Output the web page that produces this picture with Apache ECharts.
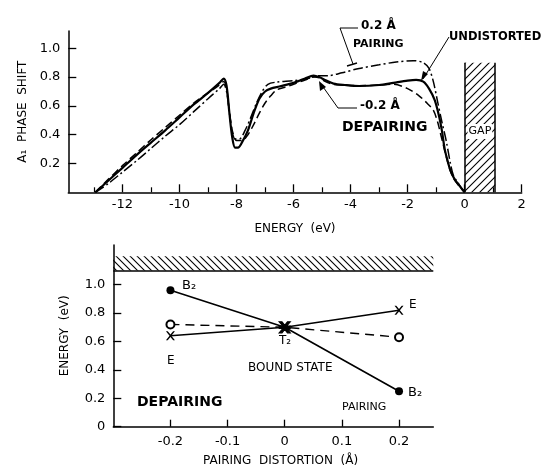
<!DOCTYPE html>
<html><head><meta charset="utf-8">
<script src="https://cdn.jsdelivr.net/npm/echarts@6/dist/echarts.min.js"></script>
<style>html,body{margin:0;padding:0;background:#fff}#c{width:547px;height:470px}</style>
</head><body><div id="c"></div>
<script>
// ---- Top panel: A1 phase shift vs energy ----
const undistortedE = [-12.95,-12.5,-12,-11.5,-11,-10.5,-10,-9.5,-9,-8.6,-8.45,-8.35,-8.25,-8.15,-8.05,-7.95,-7.8,-7.6,-7.4,-7.2,-7.0,-6.8,-6.5,-6.0,-5.6,-5.3,-5.1,-4.9,-4.6,-4.2,-3.7,-3.0,-2.5,-2.0,-1.7,-1.45,-1.25,-1.05,-0.9,-0.8,-0.7,-0.6,-0.5,-0.35,-0.2,0];
const undistortedPhase = [0,0.08,0.17,0.26,0.345,0.43,0.52,0.61,0.69,0.76,0.79,0.74,0.55,0.38,0.31,0.31,0.35,0.43,0.55,0.65,0.70,0.72,0.735,0.76,0.79,0.81,0.80,0.78,0.755,0.745,0.738,0.745,0.76,0.775,0.78,0.768,0.72,0.64,0.53,0.43,0.30,0.22,0.15,0.09,0.05,0];
const depairingE = [-12.95,-12.5,-12,-11.5,-11,-10.5,-10,-9.5,-9,-8.6,-8.45,-8.35,-8.25,-8.15,-8.0,-7.8,-7.6,-7.4,-7.2,-7.0,-6.8,-6.6,-6.3,-6.0,-5.6,-5.3,-5.1,-4.9,-4.6,-4.2,-3.7,-3.0,-2.5,-2.0,-1.6,-1.3,-1.1,-0.95,-0.85,-0.75,-0.65,-0.55,-0.4,-0.2,0];
const depairingPhase = [0,0.09,0.185,0.275,0.365,0.45,0.535,0.62,0.69,0.745,0.77,0.72,0.56,0.43,0.36,0.36,0.40,0.47,0.55,0.62,0.67,0.71,0.73,0.75,0.78,0.80,0.795,0.77,0.75,0.745,0.74,0.745,0.75,0.72,0.67,0.615,0.57,0.49,0.41,0.33,0.25,0.18,0.10,0.045,0];
const pairingE = [-12.95,-12.5,-12,-11.5,-11,-10.5,-10,-9.5,-9,-8.6,-8.45,-8.35,-8.25,-8.15,-8.05,-7.9,-7.7,-7.5,-7.3,-7.1,-6.9,-6.6,-6.0,-5.5,-5.1,-4.8,-4.3,-3.7,-3.0,-2.4,-1.8,-1.45,-1.25,-1.1,-0.95,-0.8,-0.65,-0.5,-0.4,-0.25,0];
const pairingPhase = [0,0.06,0.14,0.22,0.305,0.39,0.47,0.56,0.65,0.72,0.75,0.70,0.55,0.42,0.37,0.37,0.43,0.52,0.62,0.70,0.75,0.765,0.775,0.79,0.81,0.81,0.83,0.86,0.885,0.905,0.914,0.90,0.86,0.77,0.63,0.49,0.36,0.20,0.12,0.07,0];
const energyTickLabels = [-12,-10,-8,-6,-4,-2,0,2];
const energyMinorTicks = [-13,-11,-9,-7,-5,-3,-1,1];
const phaseTickLabels = [0.2,0.4,0.6,0.8,1.0];
const gapRange = [0, 1.07];
const gapTop = 0.9;

// ---- Bottom panel: bound state energy vs pairing distortion ----
const distortion = [-0.2, 0, 0.2];
const b2Energy = [0.96, 0.70, 0.25];
const eEnergy = [0.64, 0.70, 0.82];
const a1Energy = [0.72, 0.70, 0.63];
const distortionTicks = [-0.2,-0.1,0,0.1,0.2];
const boundEnergyTicks = [0,0.2,0.4,0.6,0.8,1.0];
const bandEdge = 1.1;
const bandTop = 1.2;

const zip = (a,b) => a.map((v,i)=>[v,b[i]]);
function hatch(dir, step){
  const c = document.createElement('canvas'); c.width = step; c.height = step;
  const g = c.getContext('2d'); g.strokeStyle = '#000'; g.lineWidth = 1.1;
  g.beginPath();
  if (dir === '/') {
    g.moveTo(-2, step+2); g.lineTo(step+2, -2);
    g.moveTo(-2, 2); g.lineTo(2, -2);
    g.moveTo(step-2, step+2); g.lineTo(step+2, step-2);
  } else {
    g.moveTo(-2, -2); g.lineTo(step+2, step+2);
    g.moveTo(step-2, -2); g.lineTo(step+2, 2);
    g.moveTo(-2, step-2); g.lineTo(2, step+2);
  }
  g.stroke();
  return c;
}
const FONT = 'DejaVu Sans';
const xMark = 'path://M0,0 L2,0 L5,3.6 L8,0 L10,0 L6,5 L10,10 L8,10 L5,6.4 L2,10 L0,10 L4,5 Z';
const starMark = 'path://M0,0 L2.5,0 L5,3.2 L7.5,0 L10,0 L6.6,4 L10,4 L10,6 L6.6,6 L10,10 L7.5,10 L5,6.8 L2.5,10 L0,10 L3.4,6 L0,6 L0,4 L3.4,4 Z';

const chart = echarts.init(document.getElementById('c'), null, {renderer:'canvas'});
const axisCommon = {
  axisLine:{show:true, onZero:false, lineStyle:{color:'#000', width:1.5}},
  axisTick:{show:true, inside:true, length:8, lineStyle:{color:'#000', width:1.3}},
  axisLabel:{color:'#000', fontFamily:FONT, fontSize:13},
  splitLine:{show:false}
};
const option = {
  animation:false,
  backgroundColor:'#fff',
  grid:[
    {left:68.3, top:31, width:453.4, height:161.3},
    {left:113.3, top:244.9, width:320, height:181.8}
  ],
  xAxis:[
    Object.assign({}, axisCommon, {type:'value', gridIndex:0, position:'bottom', min:-13.9, max:2,
      axisTick:Object.assign({}, axisCommon.axisTick, {customValues:energyTickLabels}),
      axisLabel:Object.assign({}, axisCommon.axisLabel, {customValues:energyTickLabels, margin:6}),
      name:'ENERGY  (eV)', nameLocation:'middle', nameGap:31,
      nameTextStyle:{color:'#000', fontFamily:FONT, fontSize:12}}),
    {type:'value', gridIndex:0, position:'bottom', min:-13.9, max:2, axisLine:{show:false, onZero:false},
      axisTick:{show:true, inside:true, length:5, customValues:energyMinorTicks, lineStyle:{color:'#000', width:1.2}},
      axisLabel:{show:false}, splitLine:{show:false}},
    Object.assign({}, axisCommon, {type:'value', gridIndex:1, position:'bottom', min:-0.3, max:0.26,
      axisTick:Object.assign({}, axisCommon.axisTick, {length:7, customValues:distortionTicks}),
      axisLabel:Object.assign({}, axisCommon.axisLabel, {customValues:distortionTicks, margin:8,
        formatter:v=>{const r=Math.round(v*10)/10; return r===0?'0':r.toFixed(1);}})})
  ],
  yAxis:[
    Object.assign({}, axisCommon, {type:'value', gridIndex:0, position:'left', min:0, max:1.12,
      axisTick:Object.assign({}, axisCommon.axisTick, {customValues:phaseTickLabels}),
      axisLabel:Object.assign({}, axisCommon.axisLabel, {customValues:phaseTickLabels, margin:8, formatter:v=>v.toFixed(1)}),
      name:'A\u2081  PHASE  SHIFT', nameLocation:'middle', nameGap:37,
      nameTextStyle:{color:'#000', fontFamily:FONT, fontSize:12}}),
    Object.assign({}, axisCommon, {type:'value', gridIndex:1, position:'left', min:0, max:1.28,
      axisTick:Object.assign({}, axisCommon.axisTick, {customValues:boundEnergyTicks}),
      axisLabel:Object.assign({}, axisCommon.axisLabel, {customValues:boundEnergyTicks, margin:8,
        formatter:v=>v===0?'0':v.toFixed(1)}),
      name:'ENERGY  (eV)', nameLocation:'middle', nameGap:42,
      nameTextStyle:{color:'#000', fontFamily:FONT, fontSize:12}})
  ],
  series:[
    {type:'line', name:'undistorted', xAxisIndex:0, yAxisIndex:0, data:zip(undistortedE, undistortedPhase),
      smooth:0.3, symbol:'none', lineStyle:{color:'#000', width:2.2}, z:5,
      markArea:{silent:true, itemStyle:{color:{image:hatch('/',8), repeat:'repeat'}},
        label:{show:true, position:'inside', formatter:'GAP', color:'#000', fontFamily:FONT, fontSize:11,
          backgroundColor:'#fff', padding:[2,1], offset:[0,4]},
        data:[[{xAxis:gapRange[0], yAxis:0},{xAxis:gapRange[1], yAxis:gapTop}]]},
      markLine:{silent:true, symbol:'none', label:{show:false}, lineStyle:{color:'#000', width:1.5, type:'solid'},
        data:[[{coord:[gapRange[0],0]},{coord:[gapRange[0],gapTop]}],[{coord:[gapRange[1],0]},{coord:[gapRange[1],gapTop]}]]}
    },
    {type:'line', name:'depairing', xAxisIndex:0, yAxisIndex:0, data:zip(depairingE, depairingPhase),
      smooth:0.3, symbol:'none', lineStyle:{color:'#000', width:1.5, type:[8,4]}, z:4},
    {type:'line', name:'pairing', xAxisIndex:0, yAxisIndex:0, data:zip(pairingE, pairingPhase),
      smooth:0.3, symbol:'none', lineStyle:{color:'#000', width:1.5, type:[10,3,2,3]}, z:4},
    {type:'line', name:'B2', xAxisIndex:2, yAxisIndex:1, data:zip(distortion, b2Energy),
      symbol:'circle', symbolSize:(v)=>v[0]===0?0:8, itemStyle:{color:'#000'},
      lineStyle:{color:'#000', width:1.6}, z:5,
      markArea:{silent:true, itemStyle:{color:{image:hatch('\\',7), repeat:'repeat'}},
        data:[[{xAxis:-0.3, yAxis:bandEdge},{xAxis:0.26, yAxis:bandTop}]]},
      markLine:{silent:true, symbol:'none', label:{show:false}, lineStyle:{color:'#000', width:1.5, type:'solid'},
        data:[[{coord:[-0.3,bandEdge]},{coord:[0.26,bandEdge]}]]}
    },
    {type:'line', name:'E', xAxisIndex:2, yAxisIndex:1, data:zip(distortion, eEnergy),
      symbol:xMark, symbolSize:(v)=>v[0]===0?0:9, itemStyle:{color:'#000'},
      lineStyle:{color:'#000', width:1.4}, z:5},
    {type:'line', name:'A1', xAxisIndex:2, yAxisIndex:1, data:zip(distortion, a1Energy),
      symbol:(v)=>v[0]===0?starMark:'emptyCircle', symbolSize:(v)=>v[0]===0?11:8,
      itemStyle:{color:'#000', borderColor:'#000', borderWidth:1.2},
      lineStyle:{color:'#000', width:1.4, type:[9,6]}, z:6}
  ],
  graphic:[
    // top annotations
    {type:'text', left:361, top:20, style:{text:'0.2 \u00C5', font:'bold 12px "DejaVu Sans"', fill:'#000'}},
    {type:'text', left:353, top:39, style:{text:'PAIRING', font:'bold 11px "DejaVu Sans"', fill:'#000'}},
    {type:'polyline', shape:{points:[[358,28],[340,28],[353,64]]}, style:{stroke:'#000', lineWidth:1, fill:null}},
    {type:'polyline', shape:{points:[[347,66],[357,63]]}, style:{stroke:'#000', lineWidth:1.5, fill:null}},
    {type:'text', left:449, top:31, style:{text:'UNDISTORTED', font:'bold 11.5px "DejaVu Sans"', fill:'#000'}},
    {type:'polyline', shape:{points:[[449,37],[423,79]]}, style:{stroke:'#000', lineWidth:1, fill:null}},
    {type:'polygon', shape:{points:[[421,81],[423,71],[428,74]]}, style:{fill:'#000'}},
    {type:'text', left:360, top:100, style:{text:'-0.2 \u00C5', font:'bold 12px "DejaVu Sans"', fill:'#000'}},
    {type:'text', left:342, top:120, style:{text:'DEPAIRING', font:'bold 14px "DejaVu Sans"', fill:'#000'}},
    {type:'polyline', shape:{points:[[357,108],[338,108],[321,84]]}, style:{stroke:'#000', lineWidth:1, fill:null}},
    {type:'polygon', shape:{points:[[319,81],[320,91],[326,87]]}, style:{fill:'#000'}},
    // bottom annotations
    {type:'text', left:182, top:279, style:{text:'B\u2082', font:'13px "DejaVu Sans"', fill:'#000'}},
    {type:'text', left:408, top:386, style:{text:'B\u2082', font:'13px "DejaVu Sans"', fill:'#000'}},
    {type:'text', left:409, top:299, style:{text:'E', font:'12px "DejaVu Sans"', fill:'#000'}},
    {type:'text', left:167, top:355, style:{text:'E', font:'12px "DejaVu Sans"', fill:'#000'}},
    {type:'text', left:279, top:335, style:{text:'T\u2082', font:'12px "DejaVu Sans"', fill:'#000'}},
    {type:'text', left:248, top:362, style:{text:'BOUND STATE', font:'12px "DejaVu Sans"', fill:'#000'}},
    {type:'text', left:137, top:395, style:{text:'DEPAIRING', font:'bold 14px "DejaVu Sans"', fill:'#000'}},
    {type:'text', left:342, top:402, style:{text:'PAIRING', font:'11px "DejaVu Sans"', fill:'#000'}},
    {type:'text', left:203, top:455, style:{text:'PAIRING  DISTORTION  (\u00C5)', font:'12px "DejaVu Sans"', fill:'#000'}}
  ]
};
chart.setOption(option);
</script></body></html>
